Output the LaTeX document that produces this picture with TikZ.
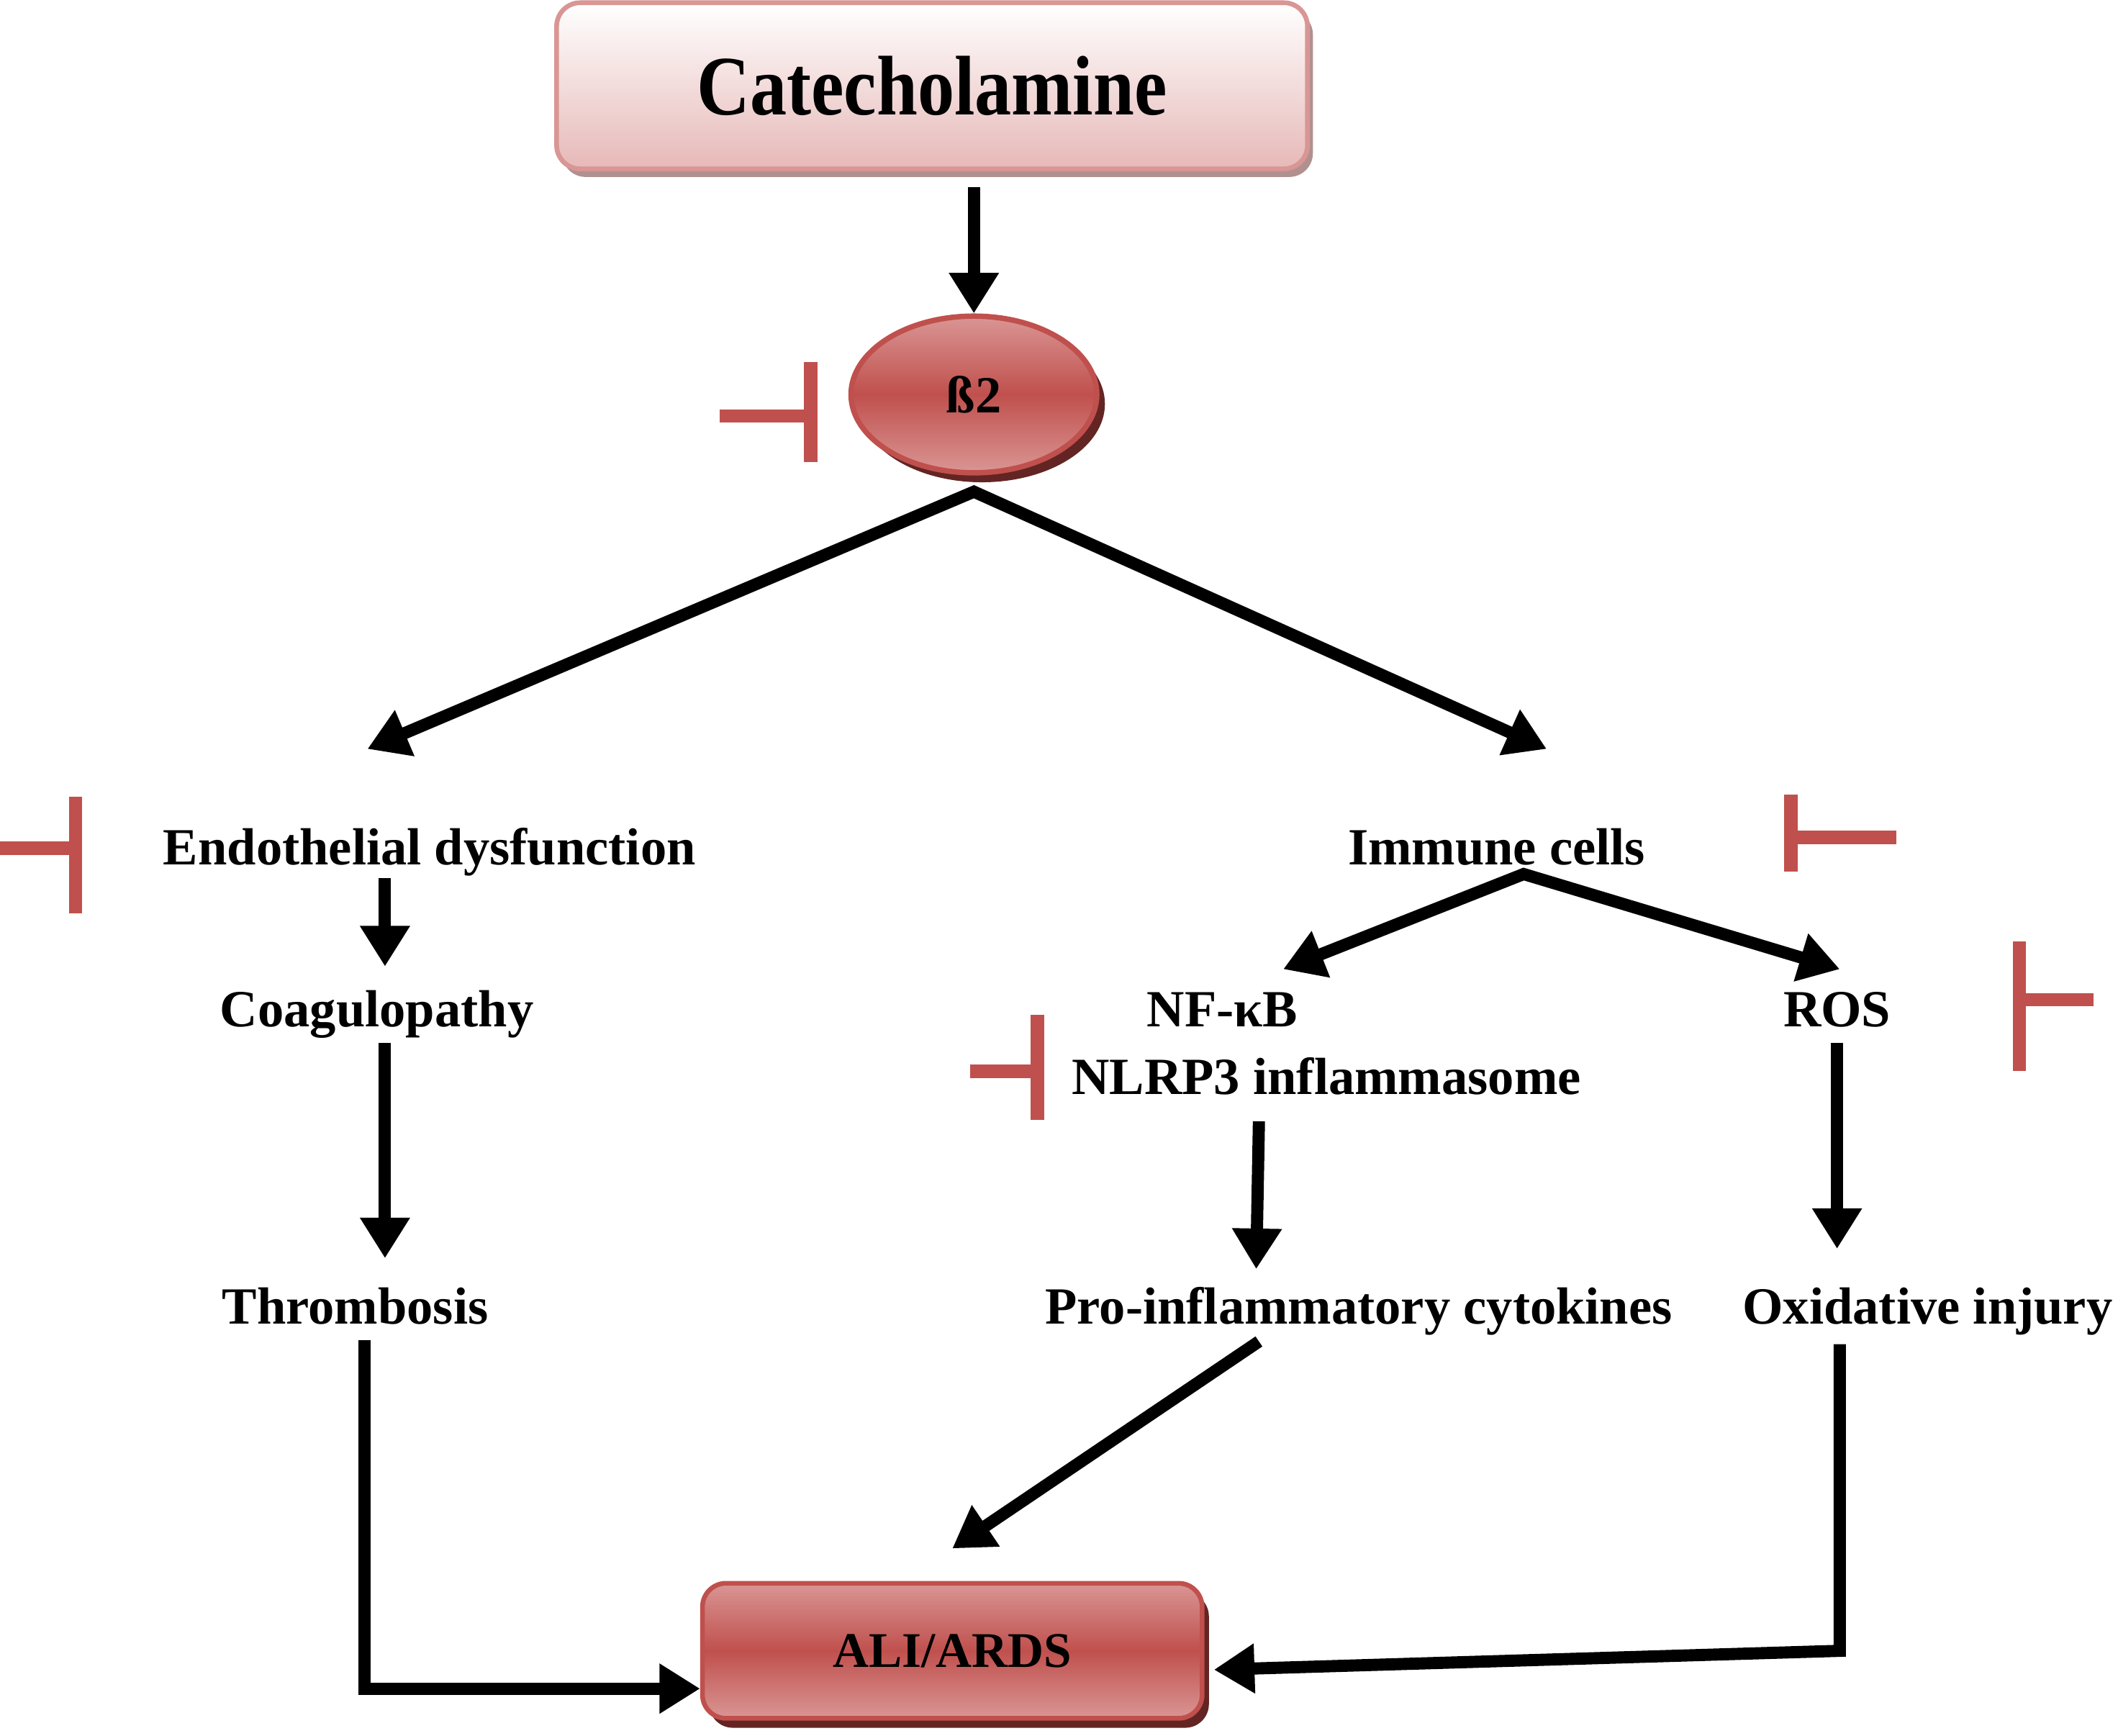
\documentclass[tikz,border=0pt]{standalone}
\usepackage{fontspec}
\setmainfont{Liberation Serif}
\usetikzlibrary{arrows.meta,calc,shapes.geometric,shadows}
\definecolor{inhibred}{HTML}{C0504D}
\definecolor{lightred}{HTML}{D99694}
\definecolor{darkred}{HTML}{632523}
\definecolor{pinkfill}{HTML}{E6B9B8}
\definecolor{pinkshadow}{HTML}{B09190}
\begin{document}
\begin{tikzpicture}[x=0.02cm,y=-0.02cm,>={Triangle[length=0.6cm,width=0.7cm]},
	flow/.style={line width=0.18cm,->},
	inhib/.style={line width=0.2cm,inhibred},
	txt/.style={font=\fontsize{22}{26}\selectfont\bfseries,inner sep=0pt,text height=15.5pt,text depth=5.5pt,anchor=base},
	catbox/.style={rectangle,rounded corners=0.35cm,draw=lightred,line width=0.07cm,top color=white,bottom color=pinkfill,
		minimum width=11.12cm,minimum height=2.46cm,font=\fontsize{31}{36}\selectfont\bfseries,
		drop shadow={shadow xshift=0.08cm,shadow yshift=-0.12cm,fill=pinkshadow,opacity=1}},
	betaell/.style={ellipse,draw=inhibred,line width=0.08cm,top color=lightred,bottom color=lightred,middle color=inhibred,
		minimum width=3.64cm,minimum height=2.32cm,font=\fontsize{22}{26}\selectfont\bfseries,
		drop shadow={shadow xshift=0.12cm,shadow yshift=-0.14cm,fill=darkred,opacity=1}},
	alibox/.style={rectangle,rounded corners=0.35cm,draw=inhibred,line width=0.07cm,top color=lightred,bottom color=lightred,middle color=inhibred,
		minimum width=7.4cm,minimum height=2cm,font=\fontsize{21}{25}\selectfont\bfseries,
		drop shadow={shadow xshift=0.1cm,shadow yshift=-0.14cm,fill=darkred,opacity=1}}]
	\useasboundingbox (0,0) rectangle (1568,1285);
	% boxes
	\node[catbox] (cat) at (690,63.5) {\scalebox{1}[1.15]{Catecholamine}};
	\node[betaell] (beta) at (721,292) {ß2};
	\node[alibox] (ali) at (705,1222) {ALI/ARDS};
	% left branch
	\node[txt] (endo) at (318,640) {Endothelial dysfunction};
	\node[txt] (coag) at (279,760) {Coagulopathy};
	\node[txt] (thromb) at (263,980) {Thrombosis};
	% right branch
	\node[txt] (immune) at (1108,640) {Immune cells};
	\node[txt] (nfkb) at (905,760) {NF-κB};
	\node[txt] (nlrp) at (982,810) {NLRP3 inflammasome};
	\node[txt] (ros) at (1360,760) {ROS};
	\node[txt] (cyto) at (1006,980) {Pro-inflammatory cytokines};
	\node[txt] (oxid) at (1427,980) {Oxidative injury};
	% forks
	\coordinate (fork) at ($(beta.south)+(0,12)$);
	\coordinate (imfork) at ($(immune.south)+(20,-3)$);
	% arrows
	\draw[flow] ($(beta.north |- cat.south)+(0,12)$) -- (beta.north); % catecholamine to beta2
	\draw[flow,<->] ($(endo.north)+(-46,-58)$) -- (fork) -- ($(immune.north)+(37,-58)$); % the two branches
	\draw[flow] ($(endo.south -| coag.north)+(6,0)$) -- ($(coag.north)+(6,-17)$);
	\draw[flow] ($(coag.south)+(6,2)$) -- ($(coag.south |- thromb.north)+(6,-21)$);
	\draw[flow] ($(thromb.south)+(7,2)$) |- ($(ali.west)+(0,28)$); % thrombosis to ali
	\draw[flow,<->] ($(nfkb.north)+(45,-15)$) -- (imfork) -- ($(ros.north)+(2,-15)$);
	\draw[flow] ($(nlrp.south)+(-50,10)$) -- ($(cyto.north)+(-76,-13)$);
	\draw[flow] ($(ros.south)+(0,2)$) -- ($(ros.south |- oxid.north)+(0,-28)$);
	\draw[flow] ($(cyto.south)+(-74,3)$) -- ($(ali.north)+(0,-24)$); % cytokines to ali
	\draw[flow] ($(oxid.south)+(-65,5)$) -- ($(oxid.south)+(-65,232)$) -- ($(ali.east)+(7,14)$); % oxidative to ali
	% blockers
	\draw[inhib] (533,308) -- (600,308) (600,268) -- (600,342); % beta2
	\draw[inhib] (0,628) -- (56,628) (56,590) -- (56,676); % endothelial
	\draw[inhib] (1404,620) -- (1326,620) (1326,588) -- (1326,645); % immune cells
	\draw[inhib] (1550,740) -- (1495,740) (1495,697) -- (1495,793); % ros
	\draw[inhib] (718,793) -- (768,793) (768,751) -- (768,829); % nlrp3
\end{tikzpicture}
\end{document}
